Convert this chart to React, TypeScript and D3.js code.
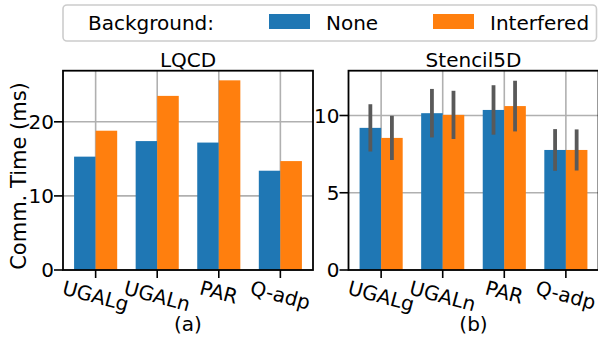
import React, { useEffect, useRef } from 'react';
import * as d3 from 'd3';

// Data
const categories = ['UGALg', 'UGALn', 'PAR', 'Q-adp'];
const seriesNames = ['None', 'Interfered'];
const seriesColors = ['#1f77b4', '#ff7f0e'];

const lqcdNone = [15.3, 17.4, 17.2, 13.4];
const lqcdInterfered = [18.8, 23.5, 25.6, 14.7];

const stencilNone = [9.2, 10.15, 10.36, 7.77];
const stencilInterfered = [8.55, 10.04, 10.61, 7.77];
const stencilNoneErr = [1.53, 1.57, 1.6, 1.35];
const stencilInterferedErr = [1.43, 1.56, 1.64, 1.33];

const lqcdTicks = [0, 10, 20];
const stencilTicks = [0, 5, 10];

const FONT = 'DejaVu Sans, sans-serif';
const WIDTH = 598;
const HEIGHT = 339;

const App = () => {
  const svgRef = useRef(null);

  useEffect(() => {
    const svg = d3.select(svgRef.current);
    svg.selectAll('*').remove();
    svg.attr('width', WIDTH).attr('height', HEIGHT);

    const top = 70.7;
    const bottom = 270;
    const barWidth = 0.35;

    const drawPanel = (opts) => {
      const { left, right, yMax, ticks, none, interfered, noneErr, interferedErr, title, label } = opts;

      const x = d3.scaleLinear().domain([-0.53, categories.length - 1 + 0.53]).range([left, right]);
      const y = d3.scaleLinear().domain([0, yMax]).range([bottom, top]);

      const g = svg.append('g');

      // grid
      g.selectAll('.hgrid')
        .data(ticks)
        .enter()
        .append('line')
        .attr('x1', left).attr('x2', right)
        .attr('y1', d => y(d)).attr('y2', d => y(d))
        .attr('stroke', '#b0b0b0')
        .attr('stroke-width', 1.6);

      g.selectAll('.vgrid')
        .data(categories)
        .enter()
        .append('line')
        .attr('x1', (d, i) => x(i)).attr('x2', (d, i) => x(i))
        .attr('y1', top).attr('y2', bottom)
        .attr('stroke', '#b0b0b0')
        .attr('stroke-width', 1.6);

      // bars
      const series = [none, interfered];
      series.forEach((vals, s) => {
        g.selectAll('.bar' + s)
          .data(vals)
          .enter()
          .append('rect')
          .attr('x', (d, i) => x(i + (s === 0 ? -barWidth : 0)))
          .attr('width', x(barWidth) - x(0))
          .attr('y', d => y(d))
          .attr('height', d => y(0) - y(d))
          .attr('fill', seriesColors[s]);
      });

      // error bars
      if (noneErr && interferedErr) {
        const errs = [noneErr, interferedErr];
        series.forEach((vals, s) => {
          g.selectAll('.err' + s)
            .data(vals)
            .enter()
            .append('line')
            .attr('x1', (d, i) => x(i + (s === 0 ? -barWidth / 2 : barWidth / 2)))
            .attr('x2', (d, i) => x(i + (s === 0 ? -barWidth / 2 : barWidth / 2)))
            .attr('y1', (d, i) => y(d - errs[s][i]))
            .attr('y2', (d, i) => y(d + errs[s][i]))
            .attr('stroke', '#595959')
            .attr('stroke-width', 3.8);
        });
      }

      // spines
      g.append('rect')
        .attr('x', left).attr('y', top)
        .attr('width', right - left).attr('height', bottom - top)
        .attr('fill', 'none')
        .attr('stroke', '#000')
        .attr('stroke-width', 1.8);

      // y ticks
      ticks.forEach(t => {
        g.append('line')
          .attr('x1', left - 9).attr('x2', left)
          .attr('y1', y(t)).attr('y2', y(t))
          .attr('stroke', '#000').attr('stroke-width', 1.6);
        g.append('text')
          .attr('x', left - 9)
          .attr('y', y(t))
          .attr('dy', '0.36em')
          .attr('text-anchor', 'end')
          .attr('font-family', FONT)
          .attr('font-size', 20)
          .attr('fill', '#000')
          .text(t);
      });

      // x ticks, labels rotated 15 degrees
      categories.forEach((c, i) => {
        g.append('line')
          .attr('x1', x(i)).attr('x2', x(i))
          .attr('y1', bottom).attr('y2', bottom + 8)
          .attr('stroke', '#000').attr('stroke-width', 1.6);
        const lbl = g.append('text')
          .attr('text-anchor', 'middle')
          .attr('dy', 6.9)
          .attr('font-family', FONT)
          .attr('font-size', 20)
          .attr('fill', '#000')
          .text(c);
        const w = lbl.node().getComputedTextLength();
        const a = 15 * Math.PI / 180;
        const h = 23.3;
        const cy = 276 + (w * Math.sin(a) + h * Math.cos(a)) / 2;
        lbl.attr('transform', `translate(${x(i)},${cy}) rotate(15)`);
      });

      // title
      g.append('text')
        .attr('x', (left + right) / 2)
        .attr('y', 67)
        .attr('text-anchor', 'middle')
        .attr('font-family', FONT)
        .attr('font-size', 20)
        .attr('fill', '#000')
        .text(title);

      // sub label
      g.append('text')
        .attr('x', (left + right) / 2)
        .attr('y', 331)
        .attr('text-anchor', 'middle')
        .attr('font-family', FONT)
        .attr('font-size', 20)
        .attr('fill', '#000')
        .text(label);
    };

    drawPanel({
      left: 63, right: 313, yMax: 26.9, ticks: lqcdTicks,
      none: lqcdNone, interfered: lqcdInterfered,
      title: 'LQCD', label: '(a)'
    });

    drawPanel({
      left: 348.5, right: 598.5, yMax: 12.9, ticks: stencilTicks,
      none: stencilNone, interfered: stencilInterfered,
      noneErr: stencilNoneErr, interferedErr: stencilInterferedErr,
      title: 'Stencil5D', label: '(b)'
    });

    // y axis label
    svg.append('text')
      .attr('transform', 'translate(25.5,176) rotate(-90)')
      .attr('text-anchor', 'middle')
      .attr('font-family', FONT)
      .attr('font-size', 21)
      .attr('fill', '#000')
      .text('Comm. Time (ms)');

    // legend
    const legend = svg.append('g');
    legend.append('rect')
      .attr('x', 63).attr('y', 5)
      .attr('width', 533.5).attr('height', 36)
      .attr('rx', 4)
      .attr('fill', '#fff')
      .attr('fill-opacity', 0.8)
      .attr('stroke', '#cccccc')
      .attr('stroke-width', 1.6);

    legend.append('text')
      .attr('x', 88).attr('y', 29.5)
      .attr('font-family', FONT)
      .attr('font-size', 20)
      .attr('fill', '#000')
      .text('Background:');

    const patchX = [269, 433];
    const textX = [326, 490];
    seriesNames.forEach((name, i) => {
      legend.append('rect')
        .attr('x', patchX[i]).attr('y', 14)
        .attr('width', 41).attr('height', 15)
        .attr('fill', seriesColors[i]);
      legend.append('text')
        .attr('x', textX[i]).attr('y', 29.5)
        .attr('font-family', FONT)
        .attr('font-size', 20)
        .attr('fill', '#000')
        .text(name);
    });
  }, []);

  return (
    <svg
      ref={svgRef}
      style={{ position: 'absolute', left: 0, top: 0, display: 'block', background: '#fff' }}
    ></svg>
  );
};

export default App;
